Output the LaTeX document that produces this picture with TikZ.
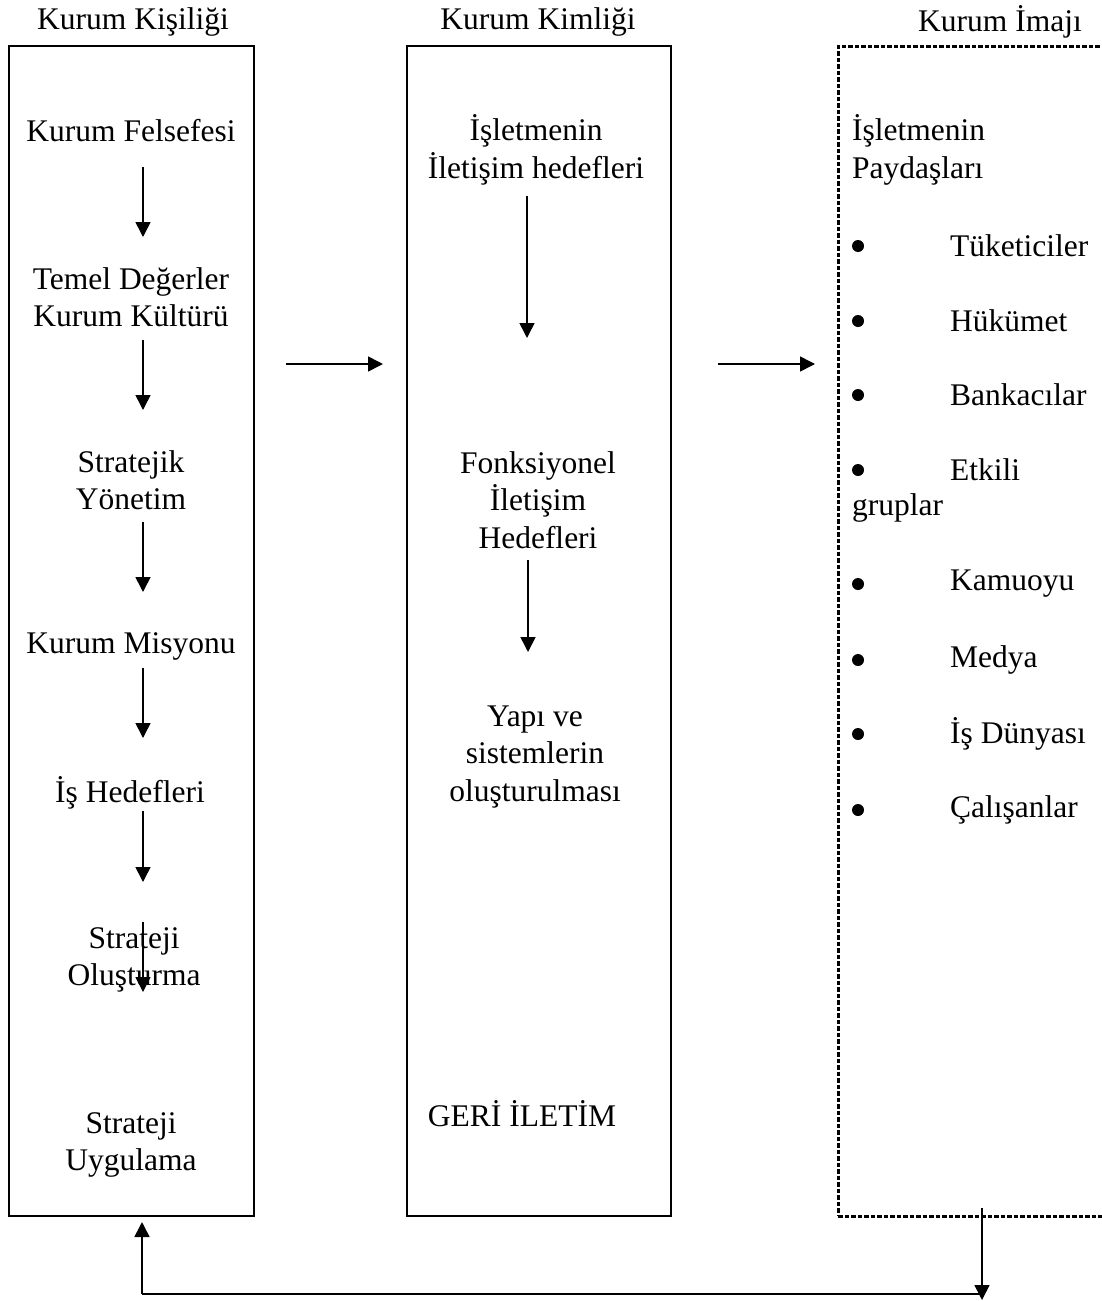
\documentclass[tikz,border=0pt]{standalone}
\usepackage{fontspec}
\setmainfont{Liberation Serif}
\usetikzlibrary{arrows.meta}
\begin{document}
\begin{tikzpicture}[x=1pt,y=-1pt,
  every node/.style={font=\fontsize{31.5}{37.5}\selectfont, inner sep=0pt},
  lbl/.style={align=center},
  box/.style={draw, line width=2.2pt},
  dbox/.style={draw, line width=3pt, dash pattern=on 4.5pt off 2pt},
  arr/.style={line width=1.6pt, -{Triangle[length=15pt,width=15pt]}},
  plain/.style={line width=1.6pt},
  dot/.style={circle, fill, minimum size=12pt, inner sep=0pt}]
\useasboundingbox (0,0) rectangle (1102,1301);
\clip (0,0) rectangle (1102,1301);

% titles
\node (t1) at (133,22) {Kurum Kişiliği};
\node (t2) at (538,22) {Kurum Kimliği};
\node (t3) at (1000,22) {Kurum İmajı};

% boxes
\node[box, minimum width=245pt, minimum height=1170pt] (kisilik) at (131.5,631) {};
\node[box, minimum width=264pt, minimum height=1170pt] (kimlik) at (539,631) {};
\node[dbox, minimum width=277pt, minimum height=1170pt] (imaj) at (976.5,631) {};

% left column
\node[lbl] (n1) at (131,131) {Kurum Felsefesi};
\node[lbl] (n2) at (131,297) {Temel Değerler\\Kurum Kültürü};
\node[lbl] (n3) at (131,480) {Stratejik\\Yönetim};
\node[lbl] (n4) at (131,646) {Kurum Misyonu};
\node[lbl] (n5) at (130,793) {İş Hedefleri};
\node[lbl] (n6) at (134,960) {Strateji\\Oluşturma};
\node[lbl] (n7) at (131,1145) {Strateji\\Uygulama};

\coordinate (a1s) at (143,167); \coordinate (a1e) at (143,237);
\coordinate (a2s) at (143,340); \coordinate (a2e) at (143,410);
\coordinate (a3s) at (143,522); \coordinate (a3e) at (143,592);
\coordinate (a4s) at (143,668); \coordinate (a4e) at (143,738);
\coordinate (a5s) at (143,811); \coordinate (a5e) at (143,882);
\coordinate (a6s) at (143,922); \coordinate (a6e) at (143,992);
\draw[arr] (a1s) -- (a1e);
\draw[arr] (a2s) -- (a2e);
\draw[arr] (a3s) -- (a3e);
\draw[arr] (a4s) -- (a4e);
\draw[arr] (a5s) -- (a5e);
\draw[arr] (a6s) -- (a6e);

% middle column
\node[lbl] (m1) at (536,150) {İşletmenin\\İletişim hedefleri};
\node[lbl] (m2) at (538,500) {Fonksiyonel\\İletişim\\Hedefleri};
\node[lbl] (m3) at (535,757) {Yapı ve\\sistemlerin\\oluşturulması};
\node[lbl] (m4) at (522,1114) {GERİ İLETİM};
\coordinate (b1s) at (527,196); \coordinate (b1e) at (527,338);
\coordinate (b2s) at (528,560); \coordinate (b2e) at (528,652);
\draw[arr] (b1s) -- (b1e);
\draw[arr] (b2s) -- (b2e);

% right column
\node[align=left, anchor=west] (r0) at (852,150) {İşletmenin\\Paydaşları};
\node[dot] (d1) at (858,246) {}; \node[anchor=west] (r1) at (950,246) {Tüketiciler};
\node[dot] (d2) at (858,321) {}; \node[anchor=west] (r2) at (950,321) {Hükümet};
\node[dot] (d3) at (858,395) {}; \node[anchor=west] (r3) at (950,395) {Bankacılar};
\node[dot] (d4) at (858,470) {}; \node[anchor=west] (r4) at (950,470) {Etkili};
\node[anchor=west] (r4b) at (852,508) {gruplar};
\node[dot] (d5) at (858,584) {}; \node[anchor=west] (r5) at (950,584) {Kamuoyu};
\node[dot] (d6) at (858,660) {}; \node[anchor=west] (r6) at (950,660) {Medya};
\node[dot] (d7) at (858,734) {}; \node[anchor=west] (r7) at (950,734) {İş Dünyası};
\node[dot] (d8) at (858,810) {}; \node[anchor=west] (r8) at (950,810) {Çalışanlar};

% arrows between boxes
\coordinate (h1s) at (286,364); \coordinate (h1e) at (383,364);
\coordinate (h2s) at (718,364); \coordinate (h2e) at (815,364);
\draw[arr] (h1s) -- (h1e);
\draw[arr] (h2s) -- (h2e);

% feedback loop
\coordinate (c1) at (142,1294);
\coordinate (c2) at (142,1222);
\coordinate (c3) at (982,1294);
\coordinate (c4) at (982,1208);
\coordinate (c5) at (982,1300);
\draw[plain] (c1) -- (c3);
\draw[arr] (c1) -- (c2);
\draw[arr] (c4) -- (c5);
\end{tikzpicture}
\end{document}
